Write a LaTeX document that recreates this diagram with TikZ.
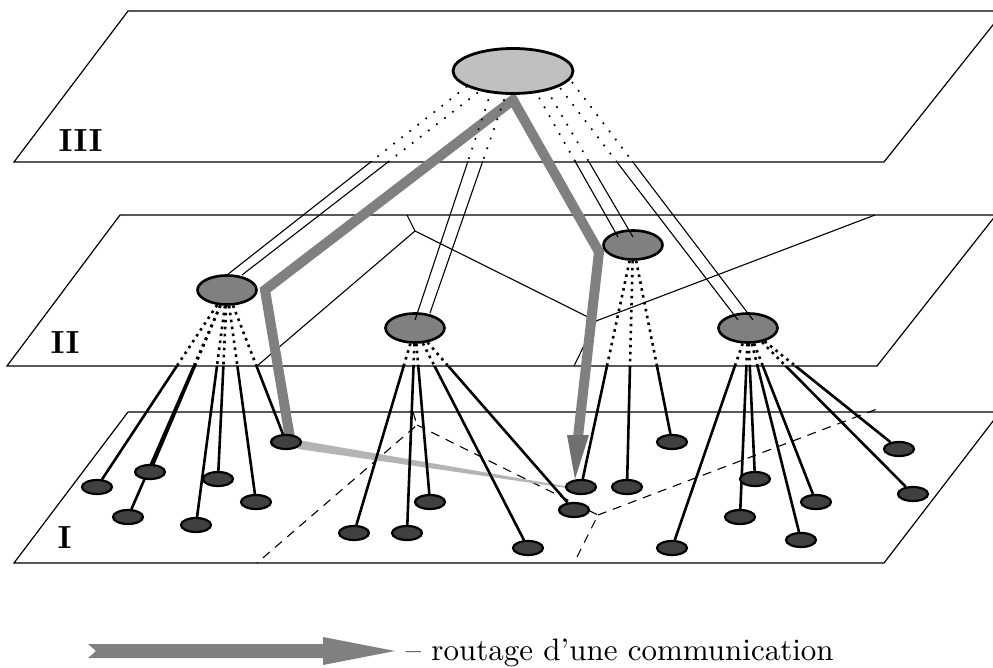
\documentclass[tikz,border=0pt]{standalone}
\usetikzlibrary{shapes.geometric,calc}
\definecolor{topc}{HTML}{C0C0C0}
\definecolor{midc}{HTML}{808080}
\definecolor{leafc}{HTML}{404040}
\definecolor{routec}{HTML}{808080}
\definecolor{headc}{HTML}{707070}
\definecolor{lightroute}{HTML}{B4B4B4}
\pgfdeclarelayer{planes}
\pgfdeclarelayer{routes}
\pgfdeclarelayer{links}
\pgfdeclarelayer{over}
\pgfsetlayers{planes,routes,links,main,over}
\newcommand\mypairs[1]{%
  \draw[#1] ($(T)+(-38,9)$) -- ($(A)+(0,-15)$);
  \draw[#1] ($(T)+(-19,9)$) -- ($(A)+(15,-15)$);
  \draw[#1] ($(T)+(-18,9)$) -- ($(B)+(0,-8)$);
  \draw[#1] ($(T)+(-2,9)$) -- ($(B)+(15,-15)$);
  \draw[#1] ($(T)+(16,9)$) -- ($(C)+(-15,-8)$);
  \draw[#1] ($(T)+(28,9)$) -- ($(C)+(0,-8)$);
  \draw[#1] ($(T)+(41,9)$) -- ($(D)+(-10,-8)$);
  \draw[#1] ($(T)+(59,11)$) -- ($(D)+(5,-8)$);
}
\newcommand\myleaflinks[1]{%
  \foreach \p/\l in {A/a1,A/a2,A/a3,A/a4,A/a5,A/a6,A/a7,
                     B/b1,B/b2,B/b3,B/b4,B/b5,
                     C/c1,C/c2,C/c3,
                     D/d1,D/d2,D/d3,D/d4,D/d5,D/d6,D/d7}
    \draw[#1] (\p) -- (\l);
}
\begin{document}
\begin{tikzpicture}[x=1pt,y=-1pt,
  planeline/.style={line width=1.2pt, line join=miter},
  partline/.style={line width=1.1pt},
  partdash/.style={line width=1.1pt, dash pattern=on 9pt off 7pt},
  topnode/.style={ellipse, draw, line width=2.8pt, fill=topc, minimum width=120pt, minimum height=45pt, inner sep=0pt},
  midnode/.style={ellipse, draw, line width=2.6pt, fill=midc, minimum width=59pt, minimum height=29pt, inner sep=0pt},
  leafnode/.style={ellipse, draw, line width=2.2pt, fill=leafc, minimum width=30pt, minimum height=14pt, inner sep=0pt},
  leafdots/.style={line width=2.6pt, dash pattern=on 2.6pt off 4.4pt},
  leafsolid/.style={line width=2.6pt},
  pairdots/.style={line width=1.7pt, dash pattern=on 1.7pt off 8.5pt},
  pairsolid/.style={line width=1.1pt},
  lvl/.style={font=\fontsize{10}{12}\selectfont\bfseries, scale=3.2, anchor=base west, inner sep=0pt},
]
\useasboundingbox (0,0) rectangle (993,668);

% ---------- nodes ----------
\node[topnode] (T) at (513,71) {};
\node[midnode] (A) at (227,290) {};
\node[midnode] (B) at (415,328) {};
\node[midnode] (C) at (633,245) {};
\node[midnode] (D) at (748,328) {};

\node[leafnode] (a1) at (97,487) {};
\node[leafnode] (a2) at (150,472) {};
\node[leafnode] (a3) at (128,517) {};
\node[leafnode] (a4) at (218,479) {};
\node[leafnode] (a5) at (196,525) {};
\node[leafnode] (a6) at (256,502) {};
\node[leafnode] (a7) at (286,442) {};
\node[leafnode] (b1) at (354,533) {};
\node[leafnode] (b2) at (407,533) {};
\node[leafnode] (b3) at (430,502) {};
\node[leafnode] (b4) at (528,548) {};
\node[leafnode] (b5) at (574,510) {};
\node[leafnode] (c1) at (581,487) {};
\node[leafnode] (c2) at (627,487) {};
\node[leafnode] (c3) at (672,442) {};
\node[leafnode] (d1) at (672,548) {};
\node[leafnode] (d2) at (740,517) {};
\node[leafnode] (d3) at (755,479) {};
\node[leafnode] (d4) at (801,540) {};
\node[leafnode] (d5) at (816,502) {};
\node[leafnode] (d6) at (899,449) {};
\node[leafnode] (d7) at (913,494) {};

\node[lvl] (l3) at (58,152) {III};
\node[lvl] (l2) at (50,353) {II};
\node[lvl] (l1) at (57,548) {I};

% ---------- planes ----------
\begin{pgfonlayer}{planes}
  \draw[planeline] (14,162) -- (884,162) -- (1004,11) -- (128,11) -- cycle;
  \draw[planeline] (7,366) -- (877,366) -- (996,215) -- (120,215) -- cycle;
  \draw[planeline] (14,563) -- (884,563) -- (1000,412) -- (128,412) -- cycle;
  % partition of level II
  \coordinate (p1) at (415,231);
  \coordinate (p2) at (596,321);
  \draw[partline] (407,215) -- (p1) -- (257,366);
  \draw[partline] (p1) -- (p2) -- (574,366);
  \draw[partline] (p2) -- (875,215);
  % partition of level I
  \coordinate (q1) at (417,425);
  \coordinate (q2) at (598,515);
  \draw[partdash] (413,412) -- (q1) -- (257,563);
  \draw[partdash] (q1) -- (q2) -- (574,563);
  \draw[partdash] (q2) -- (877,409);
\end{pgfonlayer}

% ---------- routes ----------
\begin{pgfonlayer}{routes}
  \coordinate (apex) at (513,100);
  \coordinate (bendL) at (265,290);
  \coordinate (bendR) at (599,252);
  \coordinate (shaftend) at (578,437);
  \coordinate (tip) at (575,479);
  \fill[lightroute] ($(a7)+(12,-2)$) -- ($(a7)+(12,7)$) -- ($(c1)+(-14,1)$) -- ($(c1)+(-14,-0.5)$) -- cycle;
  \draw[routec, line width=10pt, line join=miter] ($(a7)+(4,-4)$) -- (bendL) -- (apex) -- (bendR) -- (shaftend);
  \fill[headc] (567,435) -- (589,435) -- (tip) -- cycle;
\end{pgfonlayer}

% ---------- links ----------
\begin{pgfonlayer}{links}
  \begin{scope}
    \clip (-20,-20) rectangle (1020,366);
    \myleaflinks{leafdots}
  \end{scope}
  \begin{scope}
    \clip (-20,366) rectangle (1020,700);
    \myleaflinks{leafsolid}
  \end{scope}
  \begin{scope}
    \clip (-20,-20) rectangle (1020,161);
    \mypairs{pairdots}
  \end{scope}
\end{pgfonlayer}
\begin{pgfonlayer}{over}
  \begin{scope}
    \clip (-20,162) rectangle (1020,700);
    \mypairs{pairsolid}
  \end{scope}
\end{pgfonlayer}

% ---------- legend ----------
\coordinate (lgtail) at (88,651);
\fill[routec] (lgtail) ++(0,-7) -- (323,644) -- (323,637) -- (395,651) -- (323,665) -- (323,658) -- (88,658) -- (96,651) -- cycle;
\node[anchor=base west, inner sep=0pt, font=\fontsize{10}{12}\selectfont, scale=3.1] (lgtext) at (405,660) {\textendash{} routage d'une communication};
\end{tikzpicture}
\end{document}
